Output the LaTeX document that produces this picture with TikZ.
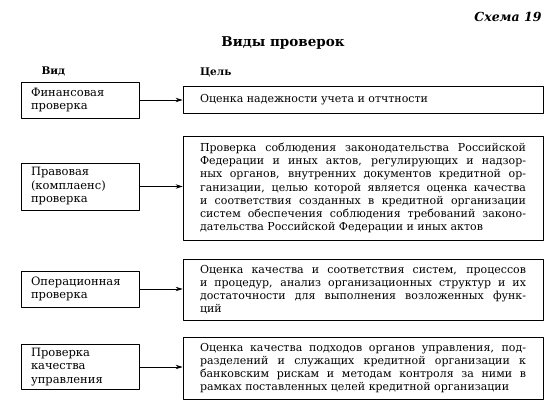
\documentclass[tikz,border=0pt]{standalone}
\usepackage{fontspec}
\setmainfont{DejaVu Serif}
\usetikzlibrary{arrows.meta}

\tikzset{
  vidbox/.style={draw,line width=0.8pt,inner xsep=10pt,text width=98pt,align=left,
    font=\fontsize{11.5}{13.5}\selectfont},
  celbox/.style={draw,line width=0.8pt,inner xsep=17pt,text width=326pt,align=justify,
    font=\fontsize{11}{13.2}\selectfont},
  strelka/.style={-{Stealth[length=7pt,width=4.5pt]},line width=0.8pt}
}

\begin{document}
\begin{tikzpicture}[line cap=round,line join=round,x=1pt,y=-1pt]%виды проверок
  \useasboundingbox (0,0) rectangle (560,414);
  \node[anchor=east,font=\fontsize{12.5}{14}\selectfont\bfseries\itshape] (shema) at (545,17) {Схема 19};
  \node[font=\fontsize{13.5}{15}\selectfont\bfseries] (zag) at (283,43) {Виды проверок};
  \node[anchor=west,font=\fontsize{10.5}{13}\selectfont\bfseries] (vid) at (38,71) {Вид};
  \node[anchor=west,font=\fontsize{10.5}{13}\selectfont\bfseries] (cel) at (196.5,72) {Цель};
  % вид
  \node[vidbox,minimum height=36pt] (fin) at (80,100) {Финансовая\\проверка};
  \node[vidbox,minimum height=47pt] (prav) at (80,186.5) {Правовая\\(комплаенс)\\проверка};
  \node[vidbox,minimum height=36pt] (oper) at (80,289) {Операционная\\проверка};
  \node[vidbox,minimum height=40pt] (upr) at (80,367) {Проверка\\качества\\управления};
  % цель
  \node[celbox,minimum height=27pt] (cel1) at (363,99.5) {Оценка надежности учета и отчтности};
  \node[celbox,minimum height=104pt] (cel2) at (363,188) {Проверка соблюдения законодательства Российской\linebreak
    Федерации и иных актов, регулирующих и надзор-\linebreak
    ных органов, внутренних документов кредитной ор-\linebreak
    ганизации, целью которой является оценка качества\linebreak
    и соответствия созданных в кредитной организации\linebreak
    систем обеспечения соблюдения требований законо-\linebreak
    дательства Российской Федерации и иных актов};
  \node[celbox,minimum height=61pt] (cel3) at (363,289.5) {Оценка качества и соответствия систем, процессов\linebreak
    и процедур, анализ организационных структур и их\linebreak
    достаточности для выполнения возложенных функ-\linebreak
    ций};
  \node[celbox,minimum height=62pt] (cel4) at (363,368) {Оценка качества подходов органов управления, под-\linebreak
    разделений и служащих кредитной организации к\linebreak
    банковским рискам и методам контроля за ними в\linebreak
    рамках поставленных целей кредитной организации};
  % стрелки
  \draw[strelka] (fin.east) -- (fin.east -| cel1.west);
  \draw[strelka] (prav.east) -- (prav.east -| cel2.west);
  \draw[strelka] (oper.east) -- (oper.east -| cel3.west);
  \draw[strelka] (upr.east) -- (upr.east -| cel4.west);
\end{tikzpicture}
\end{document}
